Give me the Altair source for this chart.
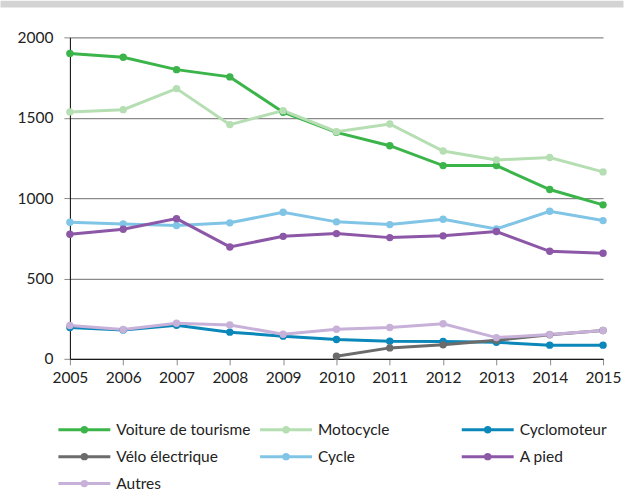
import altair as alt
import pandas as pd

# Road casualties by mode of transport, 2005-2015
years = list(range(2005, 2016))

series_names = [
    "Voiture de tourisme", "Motocycle", "Cyclomoteur",
    "Vélo électrique", "Cycle", "A pied", "Autres",
]
series_colors = [
    "#3bb44a", "#b5deb2", "#0b87ba",
    "#6b6b6b", "#80c4e6", "#8c57a6", "#c8b1d9",
]

voiture = [1900, 1876, 1799, 1754, 1534, 1409, 1326, 1202, 1202, 1053, 958]
motocycle = [1536, 1550, 1681, 1457, 1544, 1413, 1461, 1293, 1237, 1252, 1163]
cyclomoteur = [195, 180, 209, 166, 141, 120, 110, 108, 103, 85, 85]
velo_electrique = [None, None, None, None, None, 16, 68, 87, 115, 150, 176]
cycle = [850, 839, 829, 846, 912, 852, 835, 868, 808, 918, 860]
a_pied = [775, 806, 872, 696, 762, 779, 754, 765, 792, 669, 657]
autres = [207, 182, 221, 211, 153, 184, 195, 218, 132, 151, 176]

y_ticks = [0, 500, 1000, 1500, 2000]

values_by_series = [voiture, motocycle, cyclomoteur, velo_electrique,
                    cycle, a_pied, autres]

rows = []
for name, vals in zip(series_names, values_by_series):
    for yr, v in zip(years, vals):
        if v is not None:
            rows.append({"annee": yr, "serie": name, "valeur": v})
df = pd.DataFrame(rows)

legend_df = pd.DataFrame({
    "serie": series_names,
    "col": [i % 3 for i in range(len(series_names))],
    "row": [i // 3 for i in range(len(series_names))],
})

FONT = "Lato"
FS = 15.5
TXT = "#222222"
W, H = 534, 322

color_scale = alt.Scale(domain=series_names, range=series_colors)

x_enc = alt.X(
    "annee:Q",
    scale=alt.Scale(domain=[2005, 2015], nice=False, zero=False),
    axis=alt.Axis(values=years, format="d", title=None, grid=False,
                  domainColor="#000000", tickColor="#8a8a8a", tickSize=6,
                  labelPadding=6, labelFontSize=FS, labelFont=FONT,
                  labelColor=TXT, labelFlush=False),
)
y_enc = alt.Y(
    "valeur:Q",
    scale=alt.Scale(domain=[0, 2000], nice=False),
    axis=alt.Axis(values=y_ticks, format="d", title=None, grid=True,
                  gridColor="#8a8a8a", gridWidth=1.2,
                  domainColor="#000000", tickColor="#8a8a8a", tickSize=6,
                  labelPadding=11, labelFontSize=FS, labelFont=FONT,
                  labelColor=TXT),
)

lines = alt.Chart(df).mark_line(strokeWidth=3).encode(
    x=x_enc, y=y_enc,
    color=alt.Color("serie:N", scale=color_scale, legend=None),
)
points = alt.Chart(df).mark_circle(size=55, opacity=1).encode(
    x="annee:Q", y="valeur:Q",
    color=alt.Color("serie:N", scale=color_scale, legend=None),
)

# thin grey header band across the top of the figure
band = alt.Chart(pd.DataFrame({"k": [0]})).mark_rect(color="#d3d3d3").encode(
    x=alt.value(-69.5), x2=alt.value(554.5),
    y=alt.value(-36.7), y2=alt.value(-30),
)

main = alt.layer(band, lines, points).properties(width=W, height=H)

# legend drawn as its own small grid: line-with-dot swatch plus label
lx = alt.X("col:Q", scale=alt.Scale(domain=[-0.0718, 2.5718], nice=False, zero=False), axis=None)
ly = alt.Y("row:Q", scale=alt.Scale(domain=[0, 2], reverse=True, nice=False, zero=False), axis=None)
lcol = alt.Color("serie:N", scale=color_scale, legend=None)

leg_line = alt.Chart(legend_df).mark_point(
    shape="M-1,0H1", size=2704, strokeWidth=3, filled=False, opacity=1
).encode(x=lx, y=ly, color=lcol)
leg_dot = alt.Chart(legend_df).mark_circle(size=55, opacity=1).encode(
    x=lx, y=ly, color=lcol)
leg_text = alt.Chart(legend_df).mark_text(
    align="left", baseline="middle", dx=32, font=FONT, fontSize=FS, color=TXT
).encode(x=lx, y=ly, text="serie:N")

legend = alt.layer(leg_line, leg_dot, leg_text).properties(width=W, height=54)

chart = alt.vconcat(main, legend, spacing=36).properties(
    padding=0, background="white"
).configure_view(stroke=None)

chart.save("out.html", embed_options={"renderer": "svg", "actions": False})
